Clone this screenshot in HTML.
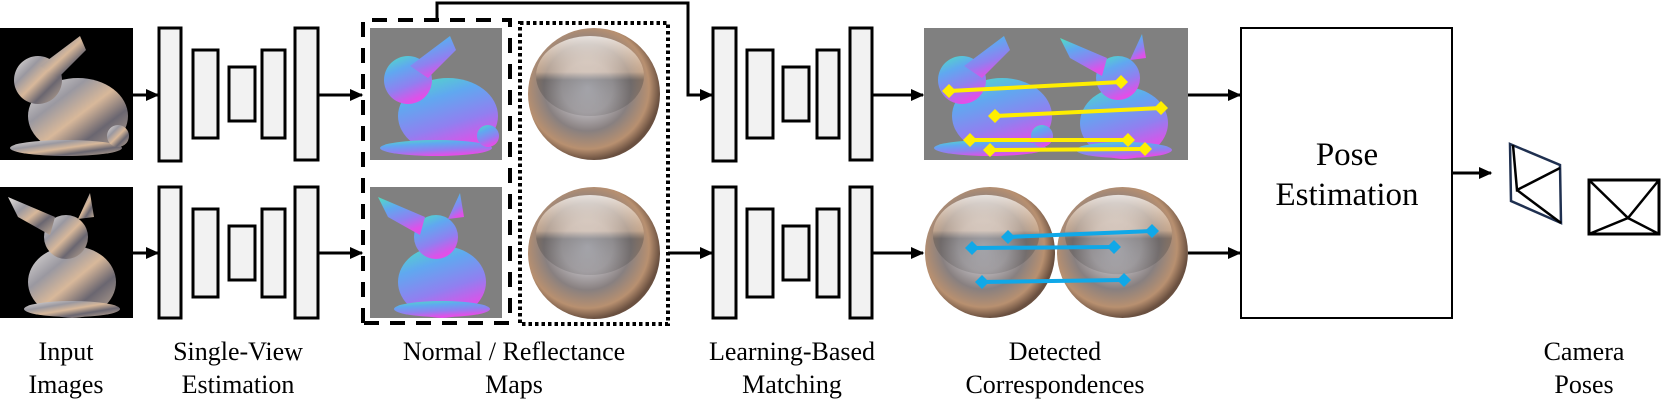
<!DOCTYPE html>
<html><head><meta charset="utf-8"><style>
html,body{margin:0;padding:0;background:#fff;width:1661px;height:402px;overflow:hidden}
svg{display:block}
svg text{font-family:"Liberation Serif","Times New Roman",Times,"DejaVu Serif",serif !important}
</style></head><body>
<svg width="1661" height="402" viewBox="0 0 1661 402" xmlns="http://www.w3.org/2000/svg">
<defs>
<marker id="ah" viewBox="0 0 10 10" refX="9" refY="5" markerWidth="4.5" markerHeight="4.5" orient="auto" markerUnits="strokeWidth"><path d="M0,0.5 L10,5 L0,9.5 z" fill="#000"/></marker>
<linearGradient id="silver" x1="0" y1="0" x2="1" y2="1">
<stop offset="0" stop-color="#e8e4e0"/><stop offset="0.3" stop-color="#9a98a0"/><stop offset="0.5" stop-color="#d8b89a"/><stop offset="0.7" stop-color="#6a6670"/><stop offset="1" stop-color="#c8b098"/></linearGradient>
<linearGradient id="normal" x1="0" y1="0" x2="0.4" y2="1">
<stop offset="0" stop-color="#50e0c0"/><stop offset="0.35" stop-color="#60a8f0"/><stop offset="0.7" stop-color="#9080f0"/><stop offset="1" stop-color="#e050e8"/></linearGradient>
<radialGradient id="sph" cx="0.45" cy="0.45" r="0.55">
<stop offset="0" stop-color="#d0d0d8"/><stop offset="0.35" stop-color="#b8b4b8"/><stop offset="0.6" stop-color="#888080"/><stop offset="0.85" stop-color="#b89070"/><stop offset="1" stop-color="#6a5040"/></radialGradient>
<linearGradient id="sphhi" x1="0" y1="0" x2="0" y2="1">
<stop offset="0" stop-color="#ffffff" stop-opacity="0.75"/><stop offset="0.45" stop-color="#f0d0b0" stop-opacity="0.4"/><stop offset="0.55" stop-color="#404040" stop-opacity="0.35"/><stop offset="1" stop-color="#303030" stop-opacity="0.15"/></linearGradient>
<g id="bunA">
<ellipse cx="78" cy="88" rx="50" ry="38"/>
<circle cx="38" cy="52" r="24"/>
<path d="M40,38 L80,8 L86,22 L58,50 z"/>
<ellipse cx="66" cy="120" rx="56" ry="8"/>
<circle cx="118" cy="108" r="11"/>
</g>
<g id="bunB">
<ellipse cx="72" cy="95" rx="44" ry="36"/>
<circle cx="66" cy="50" r="22"/>
<path d="M8,10 L55,30 L50,48 L18,30 z"/>
<path d="M78,32 L90,6 L94,30 z"/>
<ellipse cx="72" cy="122" rx="48" ry="8"/>
</g>
<g id="sphere"><circle cx="66" cy="66" r="66" fill="url(#sph)"/><ellipse cx="62" cy="48" rx="54" ry="40" fill="url(#sphhi)"/></g>
</defs>

<rect x="0" y="28" width="133" height="132" fill="#000"/>
<use href="#bunA" x="0" y="28" fill="url(#silver)"/>
<rect x="0" y="187" width="133" height="131" fill="#000"/>
<use href="#bunB" x="0" y="187" fill="url(#silver)"/>

<g stroke="#000" stroke-width="3" fill="#f2f2f2">
<rect x="159" y="28" width="22" height="133"/>
<rect x="193" y="50" width="25" height="88"/>
<rect x="229" y="67" width="26" height="54"/>
<rect x="262" y="50" width="23" height="88"/>
<rect x="295" y="28" width="23" height="132"/>
<rect x="159" y="187" width="22" height="131"/>
<rect x="193" y="209" width="25" height="88"/>
<rect x="229" y="226" width="26" height="54"/>
<rect x="262" y="209" width="23" height="88"/>
<rect x="295" y="187" width="23" height="131"/>
<rect x="713" y="28" width="23" height="133"/>
<rect x="747" y="50" width="26" height="88"/>
<rect x="783" y="67" width="26" height="54"/>
<rect x="817" y="50" width="22" height="88"/>
<rect x="850" y="28" width="22" height="132"/>
<rect x="713" y="187" width="23" height="131"/>
<rect x="747" y="209" width="26" height="88"/>
<rect x="783" y="226" width="26" height="54"/>
<rect x="817" y="209" width="22" height="88"/>
<rect x="850" y="187" width="22" height="131"/>
</g>

<rect x="370" y="28" width="132" height="132" fill="#808080"/>
<use href="#bunA" x="370" y="28" fill="url(#normal)"/>
<rect x="370" y="187" width="132" height="131" fill="#808080"/>
<use href="#bunB" x="370" y="187" fill="url(#normal)"/>
<use href="#sphere" x="528" y="28"/>
<use href="#sphere" x="528" y="187"/>

<path d="M363,323 L363,20 L510,20 L510,323 Z" fill="none" stroke="#000" stroke-width="4" stroke-dasharray="15 11"/>
<rect x="520" y="23" width="148" height="301" fill="none" stroke="#000" stroke-width="4" stroke-dasharray="3.5 3"/>

<g stroke="#000" stroke-width="3" fill="none" marker-end="url(#ah)">
<line x1="133" y1="95" x2="158" y2="95"/>
<line x1="133" y1="253" x2="158" y2="253"/>
<line x1="318" y1="95" x2="362" y2="95"/>
<line x1="318" y1="253" x2="362" y2="253"/>
<polyline points="437,20 437,3 688,3 688,95 712,95"/>
<line x1="668" y1="253" x2="712" y2="253"/>
<line x1="872" y1="95" x2="923" y2="95"/>
<line x1="872" y1="253" x2="923" y2="253"/>
<line x1="1188" y1="95" x2="1240" y2="95"/>
<line x1="1188" y1="253" x2="1240" y2="253"/>
<line x1="1452" y1="173" x2="1491" y2="173"/>
</g>

<rect x="924" y="28" width="264" height="132" fill="#808080"/>
<use href="#bunA" x="924" y="28" fill="url(#normal)"/>
<use href="#bunB" x="1052" y="28" fill="url(#normal)"/>
<g stroke="#ffee00" stroke-width="4">
<line x1="949" y1="91" x2="1121" y2="82"/>
<line x1="995" y1="116" x2="1161" y2="108"/>
<line x1="970" y1="140" x2="1128" y2="140"/>
<line x1="990" y1="150" x2="1145" y2="149"/>
</g>
<g fill="#ffee00">
<path d="M949,84 l7,7 l-7,7 l-7,-7z"/><path d="M1121,75 l7,7 l-7,7 l-7,-7z"/>
<path d="M995,109 l7,7 l-7,7 l-7,-7z"/><path d="M1161,101 l7,7 l-7,7 l-7,-7z"/>
<path d="M970,133 l7,7 l-7,7 l-7,-7z"/><path d="M1128,133 l7,7 l-7,7 l-7,-7z"/>
<path d="M990,143 l7,7 l-7,7 l-7,-7z"/><path d="M1145,142 l7,7 l-7,7 l-7,-7z"/>
</g>
<g transform="translate(925,187) scale(0.985,0.992)"><use href="#sphere"/></g>
<g transform="translate(1057,187) scale(0.992,0.992)"><use href="#sphere"/></g>
<g stroke="#10a8e8" stroke-width="4">
<line x1="1008" y1="237" x2="1152" y2="231"/>
<line x1="972" y1="248" x2="1114" y2="247"/>
<line x1="982" y1="282" x2="1124" y2="280"/>
</g>
<g fill="#10a8e8">
<path d="M1008,230 l7,7 l-7,7 l-7,-7z"/><path d="M1152,224 l7,7 l-7,7 l-7,-7z"/>
<path d="M972,241 l7,7 l-7,7 l-7,-7z"/><path d="M1114,240 l7,7 l-7,7 l-7,-7z"/>
<path d="M982,275 l7,7 l-7,7 l-7,-7z"/><path d="M1124,273 l7,7 l-7,7 l-7,-7z"/>
</g>

<rect x="1241" y="28" width="211" height="290" fill="#fff" stroke="#000" stroke-width="2"/>
<text x="1347" y="165" font-size="33" text-anchor="middle" fill="#000">Pose</text>
<text x="1347" y="205" font-size="33" text-anchor="middle" fill="#000">Estimation</text>

<polygon points="1510,144 1560,165 1561,223 1511,201" fill="none" stroke="#1f3050" stroke-width="2.5"/>
<polyline points="1513,145 1517,190 1560,168" fill="none" stroke="#000" stroke-width="2.5"/>
<line x1="1517" y1="190" x2="1561" y2="223" stroke="#000" stroke-width="2.5"/>
<rect x="1589" y="180" width="70" height="54" fill="none" stroke="#000" stroke-width="3"/>
<polyline points="1589,180 1628,218 1659,180" fill="none" stroke="#000" stroke-width="2.5"/>
<polyline points="1589,234 1628,218 1659,234" fill="none" stroke="#000" stroke-width="2.5"/>

<g font-size="26" text-anchor="middle" fill="#000">
<text x="66" y="360">Input</text><text x="66" y="393">Images</text>
<text x="238" y="360">Single-View</text><text x="238" y="393">Estimation</text>
<text x="514" y="360">Normal / Reflectance</text><text x="514" y="393">Maps</text>
<text x="792" y="360">Learning-Based</text><text x="792" y="393">Matching</text>
<text x="1055" y="360">Detected</text><text x="1055" y="393">Correspondences</text>
<text x="1584" y="360">Camera</text><text x="1584" y="393">Poses</text>
</g>
</svg>
</body></html>
